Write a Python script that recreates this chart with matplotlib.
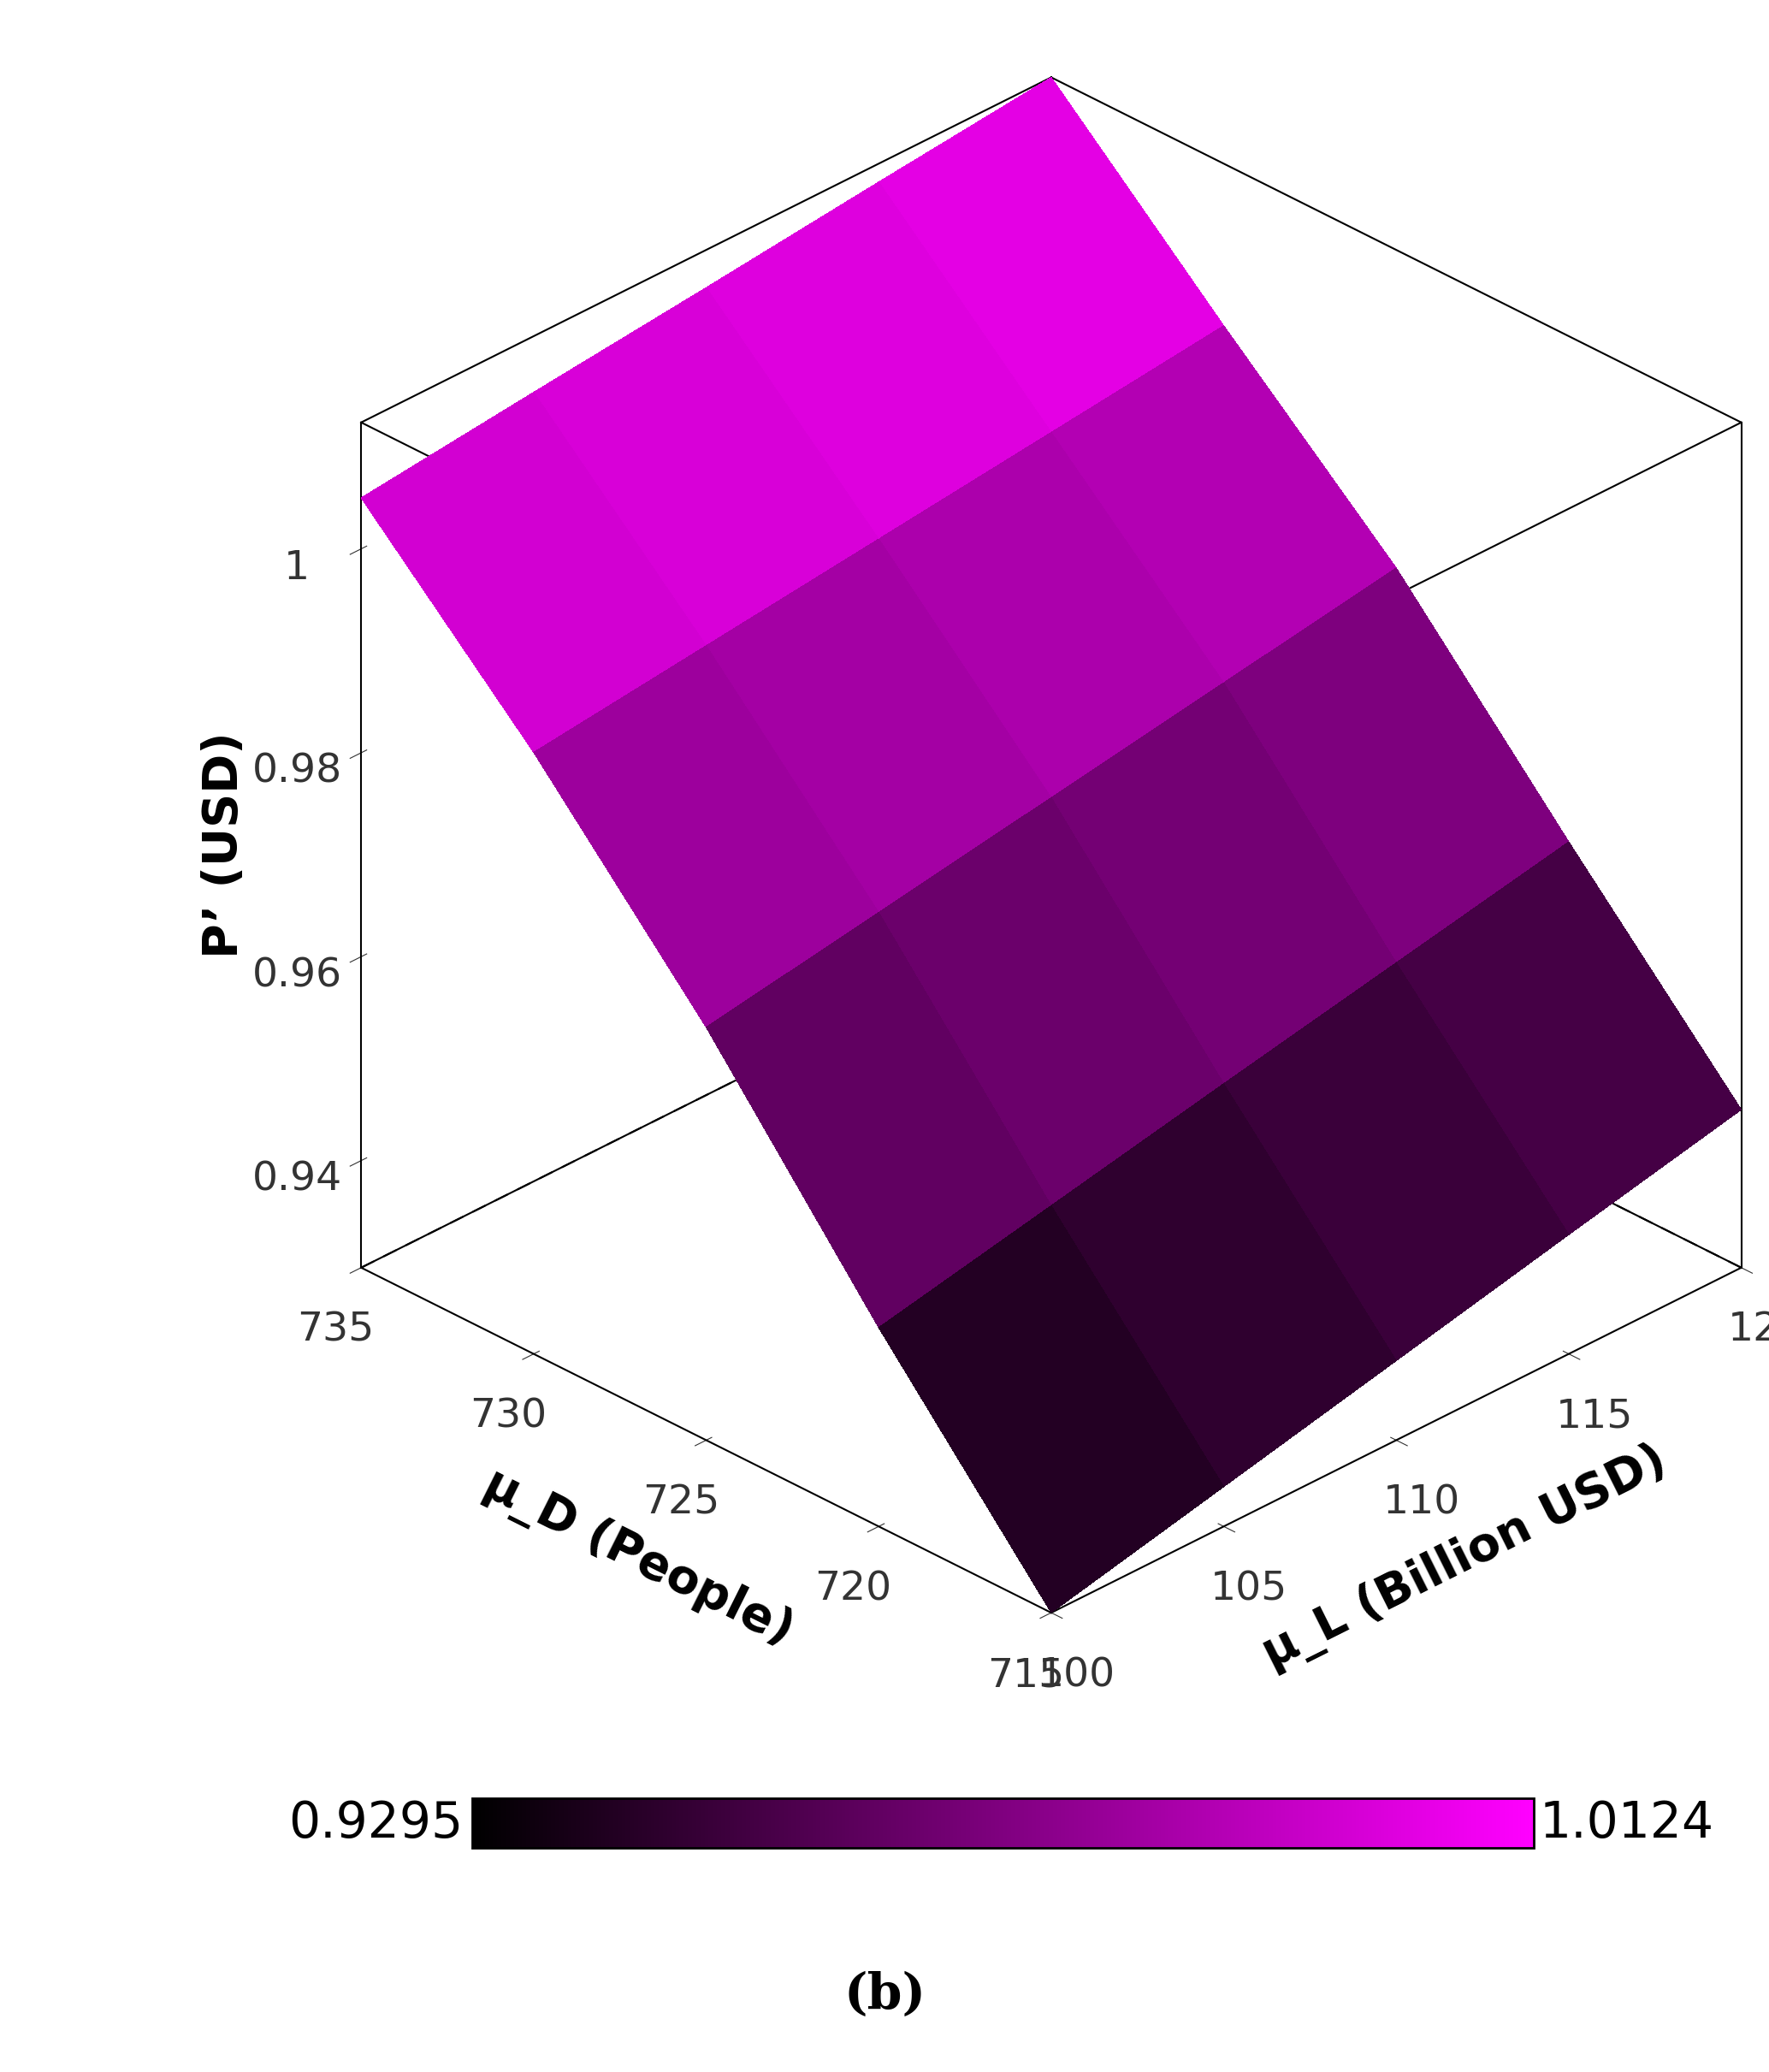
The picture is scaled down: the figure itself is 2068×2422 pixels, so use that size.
import numpy as np
import matplotlib.pyplot as plt
from matplotlib.colors import LinearSegmentedColormap

# grid
mu_L = np.array([100, 105, 110, 115, 120])        # Billion USD
mu_D = np.array([715, 720, 725, 730, 735])        # People
# P' rows follow mu_D, columns follow mu_L
P = np.array([
    [0.9295, 0.9334, 0.9373, 0.9412, 0.9450],
    [0.9490, 0.9525, 0.9560, 0.9594, 0.9628],
    [0.9700, 0.9728, 0.9756, 0.9784, 0.9812],
    [0.9885, 0.9905, 0.9925, 0.9945, 0.9965],
    [1.0050, 1.0069, 1.0087, 1.0106, 1.0124],
])
zmin, zmax = 0.9295, 1.0124

cmap = LinearSegmentedColormap.from_list('bm', ['#000000', '#ff00ff'])

fig = plt.figure(figsize=(20.68, 24.22), dpi=100)
ax = fig.add_axes([0.0, 0.13, 1.16, 0.9], projection='3d')
ax.set_proj_type('ortho')
ax.view_init(elev=30, azim=-135)
ax.set_box_aspect((1, 1, 1), zoom=0.88)

X, Y = np.meshgrid(mu_L, mu_D)
ax.plot_surface(X, Y, P, cmap=cmap, vmin=zmin, vmax=zmax, rstride=1, cstride=1,
                linewidth=0, antialiased=False, shade=False)

xl, yl, zl = (100, 120), (715, 735), (zmin, zmax)
ax.set_xlim(*xl); ax.set_ylim(*yl); ax.set_zlim(*zl)

# box outline (Maple style)
k = dict(color='black', lw=1.5)
for x in xl:
    for y in yl:
        ax.plot([x, x], [y, y], zl, **k)
for y in yl:
    for z in zl:
        ax.plot(xl, [y, y], [z, z], **k)
for x in xl:
    for z in zl:
        ax.plot([x, x], yl, [z, z], **k)
ax.plot(xl, [735, 735], [zmin, zmin], color='black', lw=1.5, ls=(0, (8, 6)))
ax.plot([120, 120], yl, [zmin, zmin], color='black', lw=1.5, ls=(0, (8, 6)))

for a in (ax.xaxis, ax.yaxis, ax.zaxis):
    a.pane.fill = False
    a.pane.set_edgecolor('none')
    a._axinfo['grid']['linewidth'] = 0
    a.line.set_color('none')
ax.grid(False)

ax.set_xticks([100, 105, 110, 115, 120])
ax.set_yticks([715, 720, 725, 730, 735])
ax.set_zticks([0.94, 0.96, 0.98, 1.0])
ax.set_zticklabels(['0.94', '0.96', '0.98', '1'])
ax.tick_params(labelsize=34, colors='#333333', pad=22)
ax.tick_params(axis='z', pad=30)
ax.set_xlabel('μ_L (Billion USD)', fontsize=40, fontweight='bold', labelpad=60)
ax.set_ylabel('μ_D (People)', fontsize=40, fontweight='bold', labelpad=60)
ax.set_zlabel("P’ (USD)", fontsize=40, fontweight='bold', labelpad=60)

cax = fig.add_axes([0.267, 0.108, 0.6, 0.024])
sm = plt.cm.ScalarMappable(cmap=cmap, norm=plt.Normalize(zmin, zmax))
cb = fig.colorbar(sm, cax=cax, orientation='horizontal')
cb.set_ticks([])
cb.outline.set_linewidth(2)
fig.text(0.262, 0.120, '0.9295', fontsize=42, ha='right', va='center')
fig.text(0.870, 0.120, '1.0124', fontsize=42, ha='left', va='center')
fig.text(0.5, 0.037, '(b)', fontsize=42, fontweight='bold', family='DejaVu Serif',
         ha='center', va='center')

fig.savefig('out.png', dpi=100)
